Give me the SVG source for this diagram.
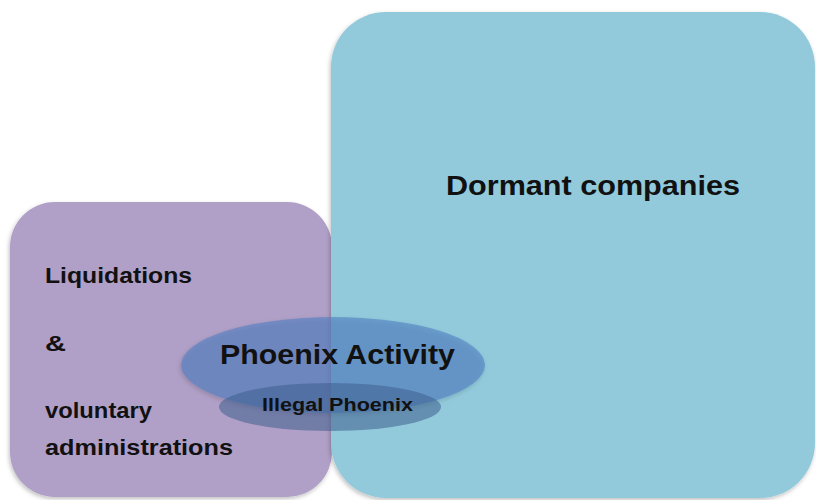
<svg xmlns="http://www.w3.org/2000/svg" width="816" height="500" viewBox="0 0 816 500">
<defs>
<filter id="sh" x="-5%" y="-5%" width="110%" height="110%">
<feDropShadow dx="-1" dy="2" stdDeviation="2" flood-color="#000" flood-opacity="0.25"/>
</filter>
<style>
text{font-family:"Liberation Sans",Arial,sans-serif;font-weight:bold;fill:#111;}
.lbl{font-size:22px;}
</style>
</defs>
<rect width="816" height="500" fill="#fff"/>
<g id="liquidations">
<rect x="10" y="202" width="322" height="295" rx="45" ry="45" fill="#B09FC6" filter="url(#sh)"/>
<text class="lbl" x="45" y="283" textLength="147" lengthAdjust="spacingAndGlyphs">Liquidations</text>
<text class="lbl" x="45" y="351" textLength="21" lengthAdjust="spacingAndGlyphs">&amp;</text>
<text class="lbl" x="45" y="418" textLength="107" lengthAdjust="spacingAndGlyphs">voluntary</text>
<text class="lbl" x="45" y="455" textLength="188" lengthAdjust="spacingAndGlyphs">administrations</text>
</g>
<g id="dormant">
<rect x="331" y="12" width="484" height="486" rx="55" ry="55" fill="#92CADC" filter="url(#sh)"/>
<text x="446" y="195" font-size="27" textLength="294" lengthAdjust="spacingAndGlyphs">Dormant companies</text>
</g>
<g id="phoenix">
<ellipse cx="333" cy="365" rx="152" ry="48" fill="#4F7EC2" fill-opacity="0.6" filter="url(#sh)"/>
<text x="220" y="364" font-size="27" textLength="235" lengthAdjust="spacingAndGlyphs">Phoenix Activity</text>
</g>
<g id="illegal">
<ellipse cx="330" cy="407" rx="111" ry="24" fill="#3E5F8E" fill-opacity="0.55"/>
<text x="262" y="411" font-size="18" textLength="151" lengthAdjust="spacingAndGlyphs">Illegal Phoenix</text>
</g>
<g id="connectors"/>
</svg>
